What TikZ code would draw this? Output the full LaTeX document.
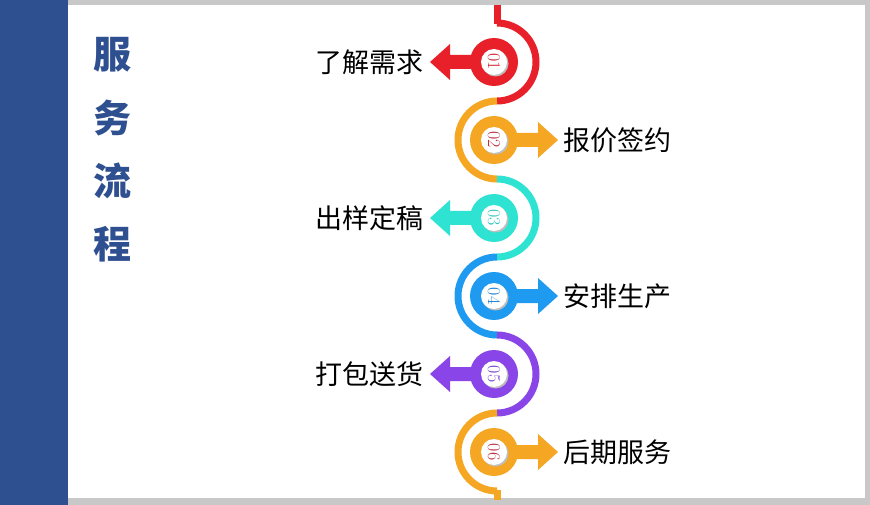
\documentclass[tikz,border=0pt]{standalone}
\usepackage{fontspec}
\newfontfamily\cjk{Noto Sans CJK SC}
\begin{document}
\begin{tikzpicture}[x=1pt,y=-1pt,
  lbl/.style={font=\cjk\fontsize{27}{27}\selectfont,text=black,inner sep=0},
  num/.style={font=\fontsize{18}{18}\selectfont,rotate=-90,inner sep=0},
  snake/.style={line width=7pt}]
\definecolor{band}{HTML}{2F5090}
\definecolor{c1}{HTML}{E8202A}
\definecolor{c2}{HTML}{F5A623}
\definecolor{c3}{HTML}{2FE3D2}
\definecolor{c4}{HTML}{1E9BF0}
\definecolor{c5}{HTML}{8A45E8}
\definecolor{c6}{HTML}{F5A623}
\definecolor{n1}{HTML}{D02030}
\definecolor{n2}{HTML}{C03040}
\definecolor{n3}{HTML}{2FC8C0}
\definecolor{n4}{HTML}{1E80D0}
\definecolor{n5}{HTML}{7040D0}
\definecolor{n6}{HTML}{C03040}
\definecolor{edge}{HTML}{C8C8C8}
\useasboundingbox (0,0) rectangle (870,505);
\fill[edge] (0,0) rectangle (870,505);
\fill[white] (68,5) rectangle (865,498);
\fill[band] (0,0) rectangle (68,505);
\foreach \c [count=\i] in {服,务,流,程}{
  \node[font=\cjk\bfseries\fontsize{38}{38}\selectfont,text=band] (t\i) at (112,{-8+63*\i}) {\c};
}
% snake
\coordinate (s0) at (497,5);
\coordinate (s1) at (497,24);
\draw[snake,c1] (s0) -- (s1);
\foreach \i/\cc/\d in {1/c1/1,2/c2/-1,3/c3/1,4/c4/-1,5/c5/1,6/c6/-1}{
  \pgfmathsetmacro{\yy}{62+78*(\i-1)}
  \draw[snake,\cc] (497,\yy-39) arc[start angle=270,end angle={270+180*\d},radius=39];
}
\coordinate (e0) at (497,490);
\coordinate (e1) at (497,500);
\draw[snake,c6] (e0) -- (e1);
% items
\foreach \i/\cc/\nc/\d/\txt in {1/c1/n1/-1/了解需求,2/c2/n2/1/报价签约,3/c3/n3/-1/出样定稿,4/c4/n4/1/安排生产,5/c5/n5/-1/打包送货,6/c6/n6/1/后期服务}{
  \pgfmathsetmacro{\yy}{62+78*(\i-1)}
  \fill[\cc] (494,\yy-7) -- ({494+\d*44},\yy-7) -- ({494+\d*44},\yy-18) -- ({494+\d*64},\yy) -- ({494+\d*44},\yy+18) -- ({494+\d*44},\yy+7) -- (494,\yy+7) -- cycle;
  \fill[\cc] (494,\yy) circle[radius=24];
  \fill[black!25] (495.5,\yy+1.5) circle[radius=13];
  \fill[white] (494,\yy) circle[radius=13];
  \node[num,text=\nc] (n\i) at (494,\yy) {0\i};
  \ifnum\d<0
    \node[lbl,anchor=east] (l\i) at (424,\yy) {\txt};
  \else
    \node[lbl,anchor=west] (l\i) at (563,\yy) {\txt};
  \fi
}
\end{tikzpicture}
\end{document}
